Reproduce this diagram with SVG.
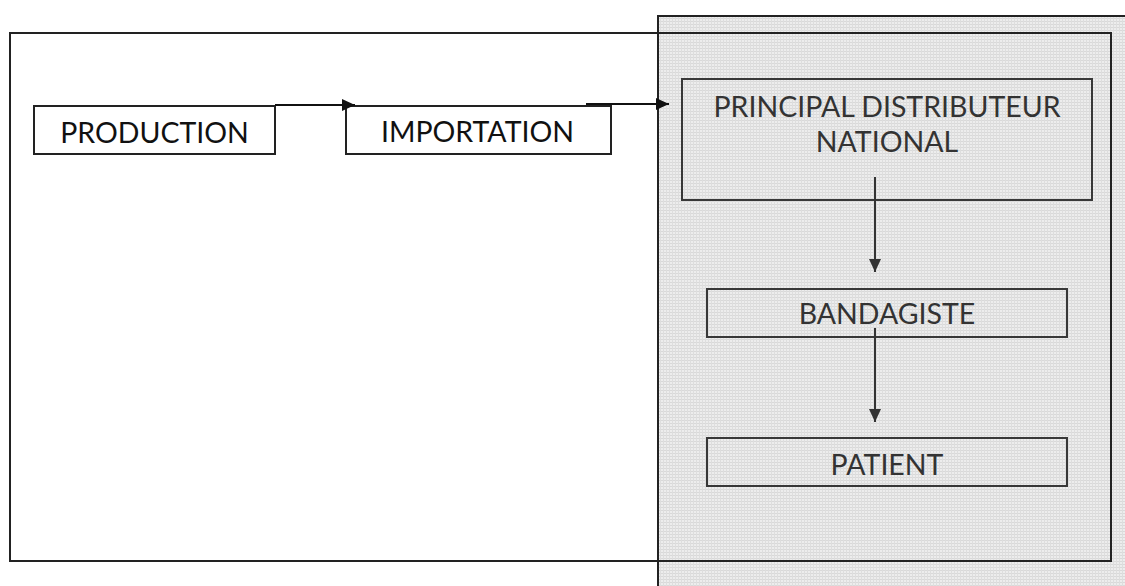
<svg xmlns="http://www.w3.org/2000/svg" width="1125" height="586" viewBox="0 0 1125 586">
  <defs>
    <pattern id="grid" width="3" height="3" patternUnits="userSpaceOnUse">
      <rect width="3" height="3" fill="#ededed"/>
      <rect width="3" height="1" fill="#d9d9d9"/>
      <rect width="1" height="3" fill="#dedede"/>
    </pattern>
    <marker id="ah" viewBox="0 0 13 12" refX="13" refY="6" markerWidth="13" markerHeight="12" markerUnits="userSpaceOnUse" orient="auto">
      <path d="M0,0 L13,6 L0,12 Z" fill="#111"/>
    </marker>
    <marker id="ahg" viewBox="0 0 13 12" refX="13" refY="6" markerWidth="13" markerHeight="12" markerUnits="userSpaceOnUse" orient="auto">
      <path d="M0,0 L13,6 L0,12 Z" fill="#333"/>
    </marker>
  </defs>
  <style>
    .box { fill: none; stroke: #222; stroke-width: 2; }
    .gbox { fill: none; stroke: #383838; stroke-width: 2; }
    .lbl { font-family: Lato, "Open Sans", sans-serif; font-size: 28.5px; text-anchor: middle; fill: #111; }
    .glbl { font-family: Lato, "Open Sans", sans-serif; font-size: 28.5px; text-anchor: middle; fill: #333; }
    .conn { fill: none; stroke: #111; stroke-width: 2; }
    .gconn { fill: none; stroke: #333; stroke-width: 2; }
  </style>
  <rect width="1125" height="586" fill="#ffffff"/>

  <g id="panel">
    <rect x="658" y="16" width="470" height="575" fill="url(#grid)" stroke="#222" stroke-width="2"/>
  </g>

  <g id="frame">
    <rect x="10" y="33" width="1101" height="528" class="box"/>
  </g>

  <g id="production">
    <rect x="34" y="106" width="241" height="48" class="box"/>
    <text x="154.5" y="143" class="lbl">PRODUCTION</text>
  </g>

  <g id="importation">
    <rect x="346" y="106" width="265" height="48" class="box"/>
    <text x="477.5" y="142" class="lbl">IMPORTATION</text>
  </g>

  <g id="distributeur">
    <rect x="682" y="79" width="410" height="121" class="gbox"/>
    <text x="887" y="117" class="glbl">PRINCIPAL DISTRIBUTEUR</text>
    <text x="887" y="152" class="glbl">NATIONAL</text>
  </g>

  <g id="bandagiste">
    <rect x="707" y="289" width="360" height="48" class="gbox"/>
    <text x="887" y="324" class="glbl">BANDAGISTE</text>
  </g>

  <g id="patient">
    <rect x="707" y="438" width="360" height="48" class="gbox"/>
    <text x="887" y="475" class="glbl">PATIENT</text>
  </g>

  <g id="connectors">
    <path d="M275,105 L355,105" class="conn" marker-end="url(#ah)"/>
    <path d="M586,104 L669,104" class="conn" marker-end="url(#ah)"/>
    <path d="M875,177 L875,272" class="gconn" marker-end="url(#ahg)"/>
    <path d="M875,328 L875,422" class="gconn" marker-end="url(#ahg)"/>
  </g>
</svg>
